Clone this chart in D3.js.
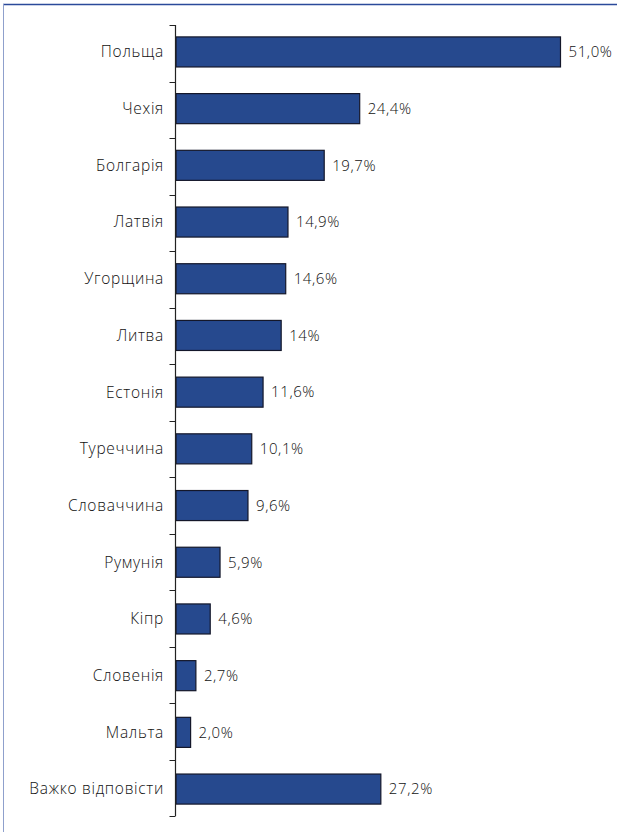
<!doctype html>
<html lang="uk">
  <head>
    <meta charset="utf-8">
    <script src="https://d3js.org/d3.v7.min.js"></script>
    <title>Країни</title>
    <style>
      body { margin: 0; background: #fff; }
      text { font-family: "Open Sans", "DejaVu Sans", sans-serif; font-weight: 300; fill: #111; }
      .cat { font-size: 15.5px; letter-spacing: 0.7px; }
      .val { font-size: 15px; letter-spacing: 0.6px; }
    </style>
  </head>
  <body>
    <svg width="617" height="832"></svg>
    <script>
      // data
      const countries = ["Польща", "Чехія", "Болгарія", "Латвія", "Угорщина", "Литва", "Естонія",
        "Туреччина", "Словаччина", "Румунія", "Кіпр", "Словенія", "Мальта", "Важко відповісти"];
      const values = [51.0, 24.4, 19.7, 14.9, 14.6, 14, 11.6, 10.1, 9.6, 5.9, 4.6, 2.7, 2.0, 27.2];
      const valueLabels = ["51,0%", "24,4%", "19,7%", "14,9%", "14,6%", "14%", "11,6%",
        "10,1%", "9,6%", "5,9%", "4,6%", "2,7%", "2,0%", "27,2%"];

      const svg = d3.select("svg");

      // frame
      svg.append("line").attr("x1", 3).attr("x2", 617).attr("y1", 4.5).attr("y2", 4.5)
        .attr("stroke", "#2b4a9a").attr("stroke-width", 1.5);
      svg.append("line").attr("x1", 3.5).attr("x2", 3.5).attr("y1", 4).attr("y2", 832)
        .attr("stroke", "#8fa0cc").attr("stroke-width", 1);

      const x0 = 175.5;
      const x = d3.scaleLinear().domain([0, 51]).range([x0, 560.5]);
      const y = d3.scaleBand().domain(countries).range([25, 816]).paddingInner(0.47).paddingOuter(0.21);

      const data = countries.map((c, i) => ({ c, v: values[i], t: valueLabels[i] }));

      svg.append("g").selectAll("rect").data(data).enter().append("rect")
        .attr("x", x0 + 0.5)
        .attr("y", d => y(d.c))
        .attr("width", d => x(d.v) - x0 - 0.5)
        .attr("height", y.bandwidth())
        .attr("fill", "#26498e")
        .attr("stroke", "#14172a")
        .attr("stroke-width", 1.2);

      // category axis
      const step = 791 / countries.length;
      const ticks = d3.range(countries.length + 1).map(i => 25 + i * step);
      const ax = svg.append("g");
      ax.append("line").attr("x1", x0).attr("x2", x0).attr("y1", 25).attr("y2", 816)
        .attr("stroke", "#222").attr("stroke-width", 1.2);
      ax.selectAll("line.tick").data(ticks).enter().append("line")
        .attr("class", "tick")
        .attr("x1", x0 - 6).attr("x2", x0)
        .attr("y1", d => Math.round(d) + 0.5).attr("y2", d => Math.round(d) + 0.5)
        .attr("stroke", "#222").attr("stroke-width", 1);

      svg.append("g").selectAll("text").data(data).enter().append("text")
        .attr("class", "cat")
        .attr("x", 164)
        .attr("y", d => y(d.c) + y.bandwidth() / 2)
        .attr("dy", "0.35em")
        .attr("text-anchor", "end")
        .text(d => d.c);

      svg.append("g").selectAll("text").data(data).enter().append("text")
        .attr("class", "val")
        .attr("x", d => x(d.v) + 8)
        .attr("y", d => y(d.c) + y.bandwidth() / 2)
        .attr("dy", "0.35em")
        .text(d => d.t);
    </script>
  </body>
</html>
